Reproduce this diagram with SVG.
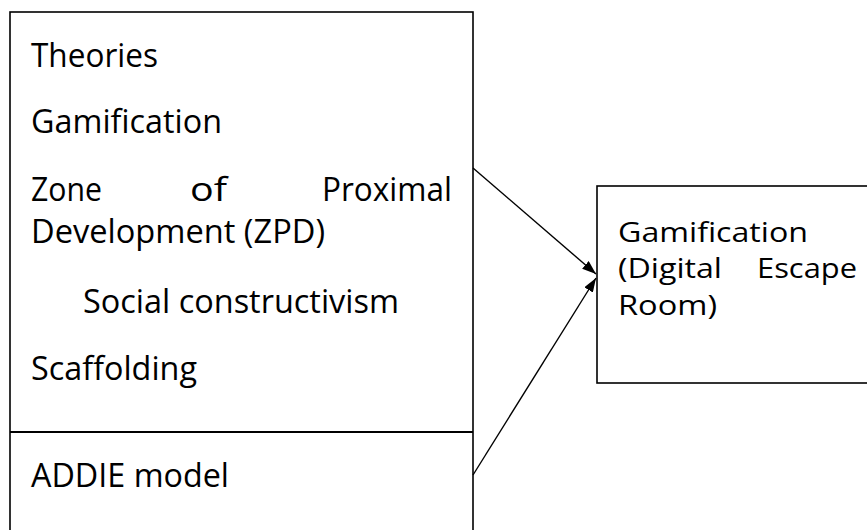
<svg xmlns="http://www.w3.org/2000/svg" width="867" height="530" viewBox="0 0 867 530">
  <style>
    .box { fill: #ffffff; stroke: #000000; stroke-width: 1.6; }
    .t { font-family: "Open Sans", "Noto Sans", sans-serif; font-size: 32px; fill: #000000; }
    .ts { font-size: 27px; }
    .conn { stroke: #000000; stroke-width: 1.4; fill: none; marker-end: url(#arrow); }
  </style>
  <defs>
    <marker id="arrow" viewBox="0 0 14 10" refX="14" refY="5" markerWidth="14" markerHeight="10" markerUnits="userSpaceOnUse" orient="auto">
      <path d="M0,0 L14,5 L0,10 Z" fill="#000000"/>
    </marker>
  </defs>
  <rect width="867" height="530" fill="#ffffff"/>

  <g id="theories">
    <rect class="box" x="10" y="12" width="463" height="530"/>
    <line x1="10" y1="432" x2="473" y2="432" stroke="#000000" stroke-width="2"/>
    <text class="t" x="31" y="67" textLength="127" lengthAdjust="spacingAndGlyphs">Theories</text>
    <text class="t" x="31" y="133" textLength="191" lengthAdjust="spacingAndGlyphs">Gamification</text>
    <text class="t" x="31" y="201" textLength="71" lengthAdjust="spacingAndGlyphs">Zone</text>
    <text class="t" x="190" y="201" textLength="37" lengthAdjust="spacingAndGlyphs">of</text>
    <text class="t" x="322" y="201" textLength="130" lengthAdjust="spacingAndGlyphs">Proximal</text>
    <text class="t" x="31" y="243" textLength="294" lengthAdjust="spacingAndGlyphs">Development (ZPD)</text>
    <text class="t" x="83" y="313" textLength="316" lengthAdjust="spacingAndGlyphs">Social constructivism</text>
    <text class="t" x="31" y="380" textLength="166" lengthAdjust="spacingAndGlyphs">Scaffolding</text>
  </g>

  <g id="addie">
    <text class="t" x="31" y="487" textLength="198" lengthAdjust="spacingAndGlyphs">ADDIE model</text>
  </g>

  <g id="escape-room">
    <rect class="box" x="597" y="186" width="290" height="197"/>
    <text class="t ts" x="618" y="242" textLength="190" lengthAdjust="spacingAndGlyphs">Gamification</text>
    <text class="t ts" x="618" y="278" textLength="104" lengthAdjust="spacingAndGlyphs">(Digital</text>
    <text class="t ts" x="757" y="278" textLength="100" lengthAdjust="spacingAndGlyphs">Escape</text>
    <text class="t ts" x="618" y="315" textLength="99" lengthAdjust="spacingAndGlyphs">Room)</text>
  </g>

  <g id="connectors">
    <line class="conn" x1="473" y1="168" x2="596" y2="274"/>
    <line class="conn" x1="473" y1="475" x2="596" y2="278"/>
  </g>
</svg>
